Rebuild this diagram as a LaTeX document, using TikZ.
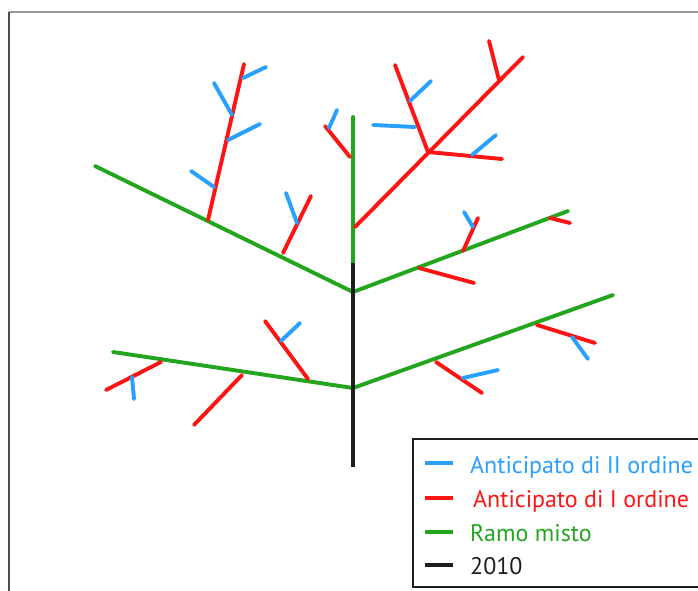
\documentclass[tikz,border=0pt]{standalone}
\usepackage{fontspec}
\setmainfont{PT Sans}
\definecolor{cblue}{RGB}{40,160,255}
\definecolor{cred}{RGB}{255,20,20}
\definecolor{cgreen}{RGB}{35,165,30}
\definecolor{cblack}{RGB}{30,30,30}
\tikzset{
  br/.style={line width=3.9pt, line cap=round},
  blueb/.style={br, cblue},
  redb/.style={br, cred},
  greenb/.style={br, cgreen},
  blackb/.style={br, cblack, line cap=butt},
  legline/.style={line width=3.4pt},
  legtext/.style={anchor=base west, inner sep=0pt, font=\fontsize{24}{28}\selectfont},
}
\begin{document}
\begin{tikzpicture}[x=1pt,y=-1pt]
\useasboundingbox (0,0) rectangle (698,591);
\clip (0,0) rectangle (698,591);
% frame
\coordinate (ftl) at (9,12);
\coordinate (ftr) at (698,12);
\coordinate (fbl) at (9,591);
\draw[line width=1.6pt, gray!80] (ftl) -- (ftr);
\draw[line width=1.4pt, black!70] (ftl) -- (fbl);

% trunk points
\coordinate (top) at (353,117);
\coordinate (tj) at (353,263);
\coordinate (j1) at (353,292);
\coordinate (j2) at (353,388);
\coordinate (bot) at (353,467);

% green branches
\coordinate (g1) at (95,166);
\coordinate (g2) at (568,211);
\coordinate (g3) at (113,352);
\coordinate (g4) at (613,295);
\draw[greenb] (top) -- (tj);
\draw[greenb] (g1) -- (j1) -- (g2);
\draw[greenb] (g3) -- (j2) -- (g4);
\draw[blackb] (tj) -- (bot);

% ---- upper left branch
\coordinate (r1a) at (208,220);
\coordinate (r1b) at (244,64);
\draw[redb] (r1a) -- (r1b);
\coordinate (b1a) at (243,78);  \coordinate (b1b) at (266,67);
\coordinate (b2a) at (232,115); \coordinate (b2b) at (214,83);
\coordinate (b3a) at (228,140); \coordinate (b3b) at (260,124);
\coordinate (b4a) at (214,187); \coordinate (b4b) at (191,171);
\draw[blueb] (b1a) -- (b1b);
\draw[blueb] (b2a) -- (b2b);
\draw[blueb] (b3a) -- (b3b);
\draw[blueb] (b4a) -- (b4b);
\coordinate (r2a) at (283,253);
\coordinate (r2b) at (311,196);
\draw[redb] (r2a) -- (r2b);
\coordinate (b5a) at (297,223); \coordinate (b5b) at (286,193);
\draw[blueb] (b5a) -- (b5b);

% ---- on top green
\coordinate (r3a) at (350,157);
\coordinate (r3b) at (325,126);
\draw[redb] (r3a) -- (r3b);
\coordinate (b6a) at (329,128); \coordinate (b6b) at (337,110);
\draw[blueb] (b6a) -- (b6b);

\coordinate (r4a) at (355,227);
\coordinate (r4m) at (428,152);
\coordinate (r4b) at (523,57);
\draw[redb] (r4a) -- (r4b);
\coordinate (r5b) at (395,65);
\draw[redb] (r4m) -- (r5b);
\coordinate (r6b) at (502,159);
\draw[redb] (r4m) -- (r6b);
\coordinate (r7a) at (499,80); \coordinate (r7b) at (489,41);
\draw[redb] (r7a) -- (r7b);
\coordinate (b7a) at (410,101); \coordinate (b7b) at (431,81);
\coordinate (b8a) at (415,127); \coordinate (b8b) at (373,125);
\coordinate (b9a) at (472,155); \coordinate (b9b) at (496,135);
\draw[blueb] (b7a) -- (b7b);
\draw[blueb] (b8a) -- (b8b);
\draw[blueb] (b9a) -- (b9b);

% ---- upper right green
\coordinate (r8a) at (463,251); \coordinate (r8b) at (478,218);
\draw[redb] (r8a) -- (r8b);
\coordinate (b10a) at (473,227); \coordinate (b10b) at (464,212);
\draw[blueb] (b10a) -- (b10b);
\coordinate (r9a) at (419,268); \coordinate (r9b) at (474,283);
\draw[redb] (r9a) -- (r9b);
\coordinate (r10a) at (550,218); \coordinate (r10b) at (570,223);
\draw[redb] (r10a) -- (r10b);

% ---- lower left green
\coordinate (r11a) at (161,362); \coordinate (r11b) at (106,390);
\draw[redb] (r11a) -- (r11b);
\coordinate (b11a) at (132,377); \coordinate (b11b) at (134,399);
\draw[blueb] (b11a) -- (b11b);
\coordinate (r12a) at (242,375); \coordinate (r12b) at (194,425);
\draw[redb] (r12a) -- (r12b);
\coordinate (r13a) at (308,379); \coordinate (r13b) at (265,321);
\draw[redb] (r13a) -- (r13b);
\coordinate (b12a) at (281,341); \coordinate (b12b) at (300,323);
\draw[blueb] (b12a) -- (b12b);

% ---- lower right green
\coordinate (r14a) at (436,362); \coordinate (r14b) at (482,393);
\draw[redb] (r14a) -- (r14b);
\coordinate (b13a) at (463,378); \coordinate (b13b) at (498,370);
\draw[blueb] (b13a) -- (b13b);
\coordinate (r15a) at (537,325); \coordinate (r15b) at (595,343);
\draw[redb] (r15a) -- (r15b);
\coordinate (b14a) at (572,337); \coordinate (b14b) at (588,359);
\draw[blueb] (b14a) -- (b14b);

% ---- legend
\coordinate (lbr) at (710,439);
\coordinate (ltl) at (413,439);
\coordinate (lbl) at (413,587);
\coordinate (lbb) at (710,587);
\draw[line width=1.6pt, cblack] (lbr) -- (ltl) -- (lbl) -- (lbb);

\coordinate (l1a) at (425,463); \coordinate (l1b) at (453,463);
\coordinate (l2a) at (425,498); \coordinate (l2b) at (453,498);
\coordinate (l3a) at (425,532); \coordinate (l3b) at (453,532);
\coordinate (l4a) at (425,565); \coordinate (l4b) at (453,565);
\draw[legline, cblue] (l1a) -- (l1b);
\draw[legline, cred] (l2a) -- (l2b);
\draw[legline, cgreen] (l3a) -- (l3b);
\draw[legline, cblack] (l4a) -- (l4b);
\node[legtext, text=cblue] (t1) at (470,473) {Anticipato di II ordine};
\node[legtext, text=cred] (t2) at (473,507) {Anticipato di I ordine};
\node[legtext, text=cgreen] (t3) at (470,541) {Ramo misto};
\node[legtext, text=cblack] (t4) at (470,574) {2010};
\end{tikzpicture}
\end{document}
